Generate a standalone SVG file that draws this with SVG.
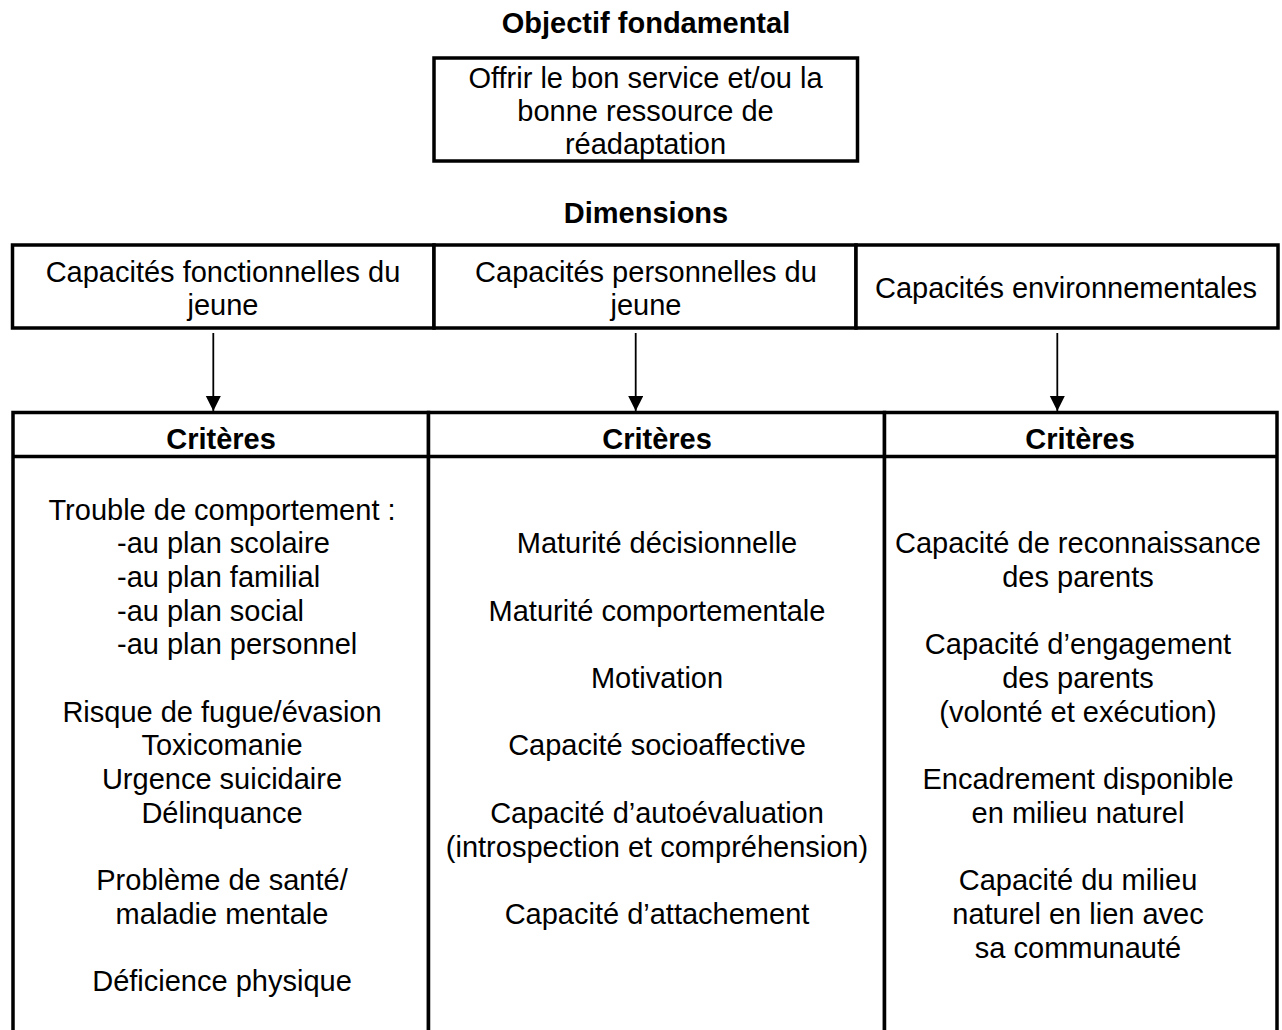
<svg xmlns="http://www.w3.org/2000/svg" width="1282" height="1030" viewBox="0 0 1282 1030">
<style>
text{font-family:"Liberation Sans",Arial,sans-serif;font-size:29px;fill:#000;text-anchor:middle}
.b{font-weight:bold}
.l{text-anchor:start}
.box{fill:#fff;stroke:#000;stroke-width:3.5}
.conn{stroke:#000;stroke-width:1.8;fill:none}
</style>
<defs>
<marker id="ah" markerUnits="userSpaceOnUse" markerWidth="16" markerHeight="16" refX="15" refY="7.5" orient="auto">
<path d="M0,0 L15,7.5 L0,15 Z" fill="#000"/>
</marker>
</defs>
<rect width="1282" height="1030" fill="#fff"/>

<g id="title-objectif"><text class="b" x="646" y="33">Objectif fondamental</text></g>
<g id="objectif">
<rect class="box" x="434" y="58" width="423.5" height="103"/>
<text x="645.5" y="87.5">Offrir le bon service et/ou la</text>
<text x="645.5" y="120.5">bonne ressource de</text>
<text x="645.5" y="153.5">réadaptation</text>
</g>

<g id="title-dimensions"><text class="b" x="646" y="223">Dimensions</text></g>
<g id="dim-fonctionnelles">
<rect class="box" x="12.5" y="245" width="421.5" height="83"/>
<text x="223" y="282">Capacités fonctionnelles du</text>
<text x="223" y="315">jeune</text>
</g>
<g id="dim-personnelles">
<rect class="box" x="434" y="245" width="422" height="83"/>
<text x="646" y="282">Capacités personnelles du</text>
<text x="646" y="315">jeune</text>
</g>
<g id="dim-environnementales">
<rect class="box" x="856" y="245" width="422" height="83"/>
<text x="1066" y="298">Capacités environnementales</text>
</g>

<g id="connectors">
<line class="conn" x1="213.3" y1="333" x2="213.3" y2="411" marker-end="url(#ah)"/>
<line class="conn" x1="635.7" y1="333" x2="635.7" y2="411" marker-end="url(#ah)"/>
<line class="conn" x1="1057.3" y1="333" x2="1057.3" y2="411" marker-end="url(#ah)"/>
</g>

<g id="crit-fonctionnelles">
<rect class="box" x="13" y="412.5" width="415.5" height="640"/>
<line class="box" x1="13" y1="456.5" x2="428.5" y2="456.5"/>
<text class="b" x="221" y="449">Critères</text>
<text x="222" y="519.5">Trouble de comportement :</text>
<text class="l" x="117" y="553.2">-au plan scolaire</text>
<text class="l" x="117" y="586.9">-au plan familial</text>
<text class="l" x="117" y="620.6">-au plan social</text>
<text class="l" x="117" y="654.3">-au plan personnel</text>
<text x="222" y="721.7">Risque de fugue/évasion</text>
<text x="222" y="755.4">Toxicomanie</text>
<text x="222" y="789.1">Urgence suicidaire</text>
<text x="222" y="822.8">Délinquance</text>
<text x="222" y="890.2">Problème de santé/</text>
<text x="222" y="923.9">maladie mentale</text>
<text x="222" y="991.3">Déficience physique</text>
</g>

<g id="crit-personnelles">
<rect class="box" x="428.5" y="412.5" width="456" height="640"/>
<line class="box" x1="428.5" y1="456.5" x2="884.5" y2="456.5"/>
<text class="b" x="657" y="449">Critères</text>
<text x="657" y="553.2">Maturité décisionnelle</text>
<text x="657" y="620.6">Maturité comportementale</text>
<text x="657" y="688">Motivation</text>
<text x="657" y="755.4">Capacité socioaffective</text>
<text x="657" y="822.8">Capacité d’autoévaluation</text>
<text x="657" y="856.5">(introspection et compréhension)</text>
<text x="657" y="923.9">Capacité d’attachement</text>
</g>

<g id="crit-environnementales">
<rect class="box" x="884.5" y="412.5" width="392.5" height="640"/>
<line class="box" x1="884.5" y1="456.5" x2="1277" y2="456.5"/>
<text class="b" x="1080" y="449">Critères</text>
<text x="1078" y="553.2">Capacité de reconnaissance</text>
<text x="1078" y="586.9">des parents</text>
<text x="1078" y="654.3">Capacité d’engagement</text>
<text x="1078" y="688">des parents</text>
<text x="1078" y="721.7">(volonté et exécution)</text>
<text x="1078" y="789.1">Encadrement disponible</text>
<text x="1078" y="822.8">en milieu naturel</text>
<text x="1078" y="890.2">Capacité du milieu</text>
<text x="1078" y="923.9">naturel en lien avec</text>
<text x="1078" y="957.6">sa communauté</text>
</g>
</svg>
